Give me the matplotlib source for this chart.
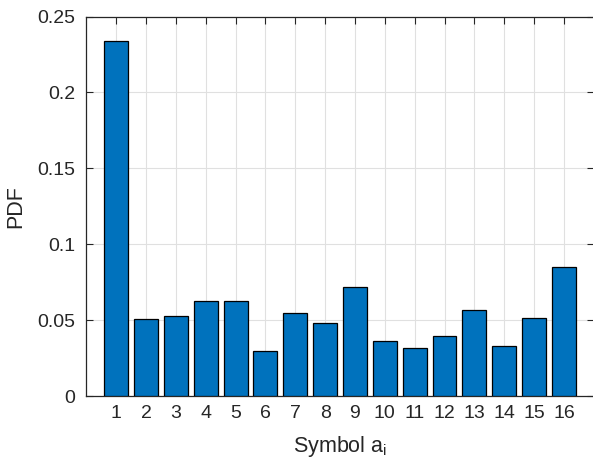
import numpy as np
import matplotlib
matplotlib.use("Agg")
import matplotlib.pyplot as plt

# probability of each symbol
symbols = np.arange(1, 17)
pdf = [0.2339, 0.0511, 0.0526, 0.0629, 0.0629, 0.0300, 0.0550, 0.0482,
       0.0721, 0.0364, 0.0316, 0.0397, 0.0566, 0.0331, 0.0515, 0.0849]
ytick_vals = [0, 0.05, 0.1, 0.15, 0.2, 0.25]
ytick_labels = ["0", "0.05", "0.1", "0.15", "0.2", "0.25"]

plt.rcParams["font.family"] = ["Liberation Sans", "DejaVu Sans"]
plt.rcParams["mathtext.fontset"] = "custom"
plt.rcParams["mathtext.rm"] = "Liberation Sans"
plt.rcParams["mathtext.it"] = "Liberation Sans"

dark = "#262626"
fig = plt.figure(figsize=(5.93, 4.66), dpi=100)
ax = fig.add_axes([86.3 / 593, 69.7 / 466, 507.5 / 593, 379.8 / 466])

ax.bar(symbols, pdf, width=0.8, color="#0072BD", edgecolor="black",
       linewidth=0.9, zorder=3)

ax.set_xlim(0, 17)
ax.set_ylim(0, 0.25)
ax.set_xticks(symbols)
ax.set_yticks(ytick_vals)
ax.set_yticklabels(ytick_labels)

ax.grid(True, color="#e0e0e0", linewidth=0.8, zorder=0)
ax.set_axisbelow(True)
ax.tick_params(direction="in", top=True, right=True, length=5, width=0.8,
               colors=dark, labelsize=14)
ax.tick_params(axis="y", pad=8)
ax.tick_params(axis="x", pad=6)
for s in ax.spines.values():
    s.set_color(dark)
    s.set_linewidth(0.9)

ax.set_xlabel(r"Symbol a$_\mathrm{i}$", fontsize=15.5, color=dark, labelpad=9)
ax.set_ylabel("PDF", fontsize=15.5, color=dark, labelpad=8)

fig.savefig("out.png", dpi=100)
